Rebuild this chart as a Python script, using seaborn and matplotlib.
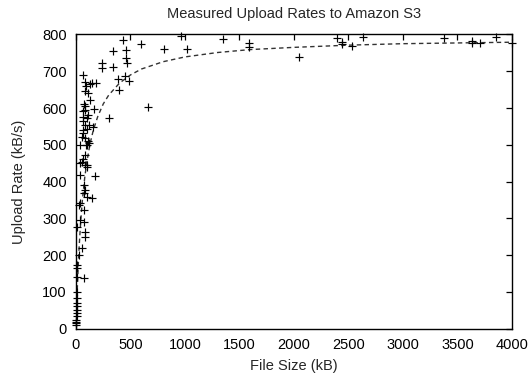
import numpy as np
import pandas as pd
import matplotlib
matplotlib.use("Agg")
import matplotlib.pyplot as plt
import seaborn as sns

# measured points (file size kB, upload rate kB/s)
file_size_kb = [
    67, 83, 144, 183, 83, 113, 128, 83, 83, 67, 100, 67, 83, 120, 67, 100, 52, 153,
    67, 83, 120, 110, 40, 100, 83, 67, 40, 100, 55, 86, 101, 39, 177, 70, 86, 70,
    101, 147, 39, 25, 70, 39, 70, 9, 86, 86, 55, 25, 9, 9, 9, 70, 9, 9, 5, 5, 5, 5,
    5, 3, 3, 1, 2,
    95, 75, 110, 60, 90, 130,
    434, 596, 342, 455, 458, 465, 238, 238, 342, 382, 452, 486, 391, 657, 306, 168,
    807, 1015, 960, 1351, 1589, 1589, 2046, 2397, 2443, 2443, 2529, 2636, 3379,
    3630, 3630, 3706, 3850, 3997,
]
upload_rate_kbs = [
    690, 672, 669, 669, 645, 640, 622, 605, 595, 593, 573, 575, 553, 553, 540, 542, 521, 549,
    531, 518, 504, 510, 499, 499, 471, 462, 449, 444, 454, 445, 440, 417, 415, 390, 377, 368,
    358, 354, 341, 336, 322, 295, 290, 277, 263, 250, 218, 200, 173, 164, 141, 137, 100, 82,
    69, 60, 51, 42, 33, 19, 10, 15, 22,
    660, 610, 580, 565, 500, 665,
    786, 773, 754, 759, 736, 722, 722, 709, 711, 679, 686, 674, 649, 604, 572, 596,
    761, 761, 795, 788, 777, 766, 738, 791, 779, 775, 770, 794, 791,
    782, 777, 777, 794, 777,
]

# dashed fit curve, sampled from the chart
fit_size_kb = [0, 5, 10, 20, 30, 40, 50, 60, 80, 100, 130, 160, 200, 250, 300, 400,
               500, 600, 800, 1000, 1300, 1600, 2000, 2500, 3000, 3500, 4000]
fit_rate_kbs = [0, 50, 93, 167, 227, 276, 318, 353, 410, 454, 504, 541, 577, 611, 635, 668,
                690, 706, 726, 739, 751, 759, 765, 771, 775, 777, 779]

points = pd.DataFrame({"size": file_size_kb, "rate": upload_rate_kbs})
fit = pd.DataFrame({"size": fit_size_kb, "rate": fit_rate_kbs})

sns.set_style("white")
plt.rcParams["font.family"] = ["Liberation Sans", "DejaVu Sans"]
fs = 10.5

fig, ax = plt.subplots(figsize=(5.31, 3.77), dpi=100)
fig.subplots_adjust(left=0.1431, right=0.9642, bottom=0.1286, top=0.9085)

sns.lineplot(data=fit, x="size", y="rate", ax=ax, color="#333333", linewidth=1.0,
             dashes=False, zorder=2)
ax.lines[0].set_dashes((3.2, 2.4))
sns.scatterplot(data=points, x="size", y="rate", ax=ax, marker="+", s=28,
                color="black", linewidth=0.85, zorder=3, clip_on=False)

ax.set_xlim(0, 4000)
ax.set_ylim(0, 800)
ax.set_xticks(np.arange(0, 4001, 500))
ax.set_yticks(np.arange(0, 801, 100))

for s in ax.spines.values():
    s.set_visible(True)
    s.set_color("black")
    s.set_linewidth(1.0)
ax.tick_params(direction="in", top=True, right=True, length=4.3, width=0.9,
               labelsize=fs, colors="black")
ax.tick_params(axis="y", pad=6.5)
ax.tick_params(axis="x", pad=7.0)

ax.set_title("Measured Upload Rates to Amazon S3", fontsize=fs, pad=12)
ax.set_xlabel("File Size (kB)", fontsize=fs, labelpad=5)
ax.set_ylabel("Upload Rate (kB/s)", fontsize=fs, labelpad=12)

fig.savefig("out.png", dpi=100, facecolor="white")
